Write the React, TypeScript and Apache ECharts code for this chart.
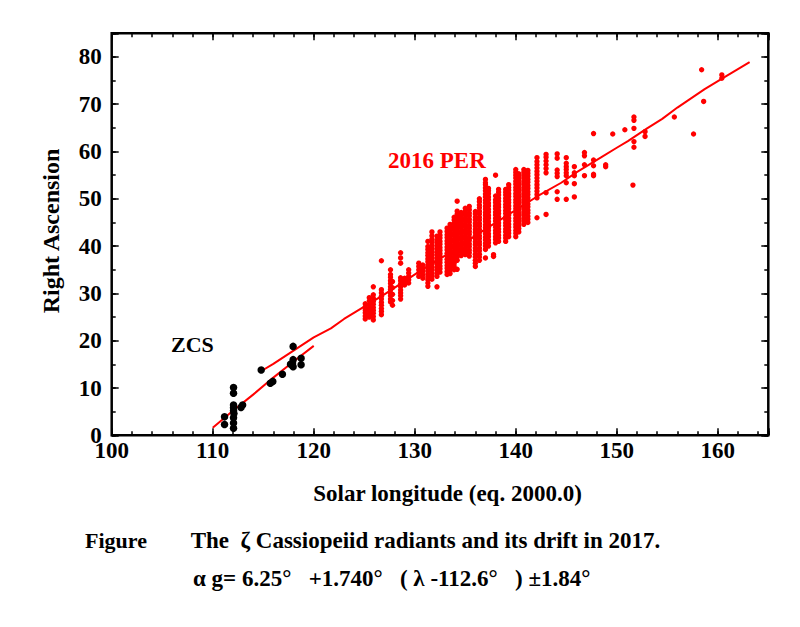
import React, { useEffect, useRef } from "react";
import * as echarts from "echarts";

// ---- axis ranges ----
const xMin = 100;
const xMax = 165;
const yMin = 0;
const yMax = 85;

// ---- 2016 PER radiants: solar longitude of each stripe and its RA values ----
const perLambda = [
  125.1, 125.5, 125.9, 126.7, 127.6, 127.8, 128.6, 129.0, 129.4, 130.4, 130.8,
  131.3, 131.7, 132.2, 132.5, 133.2, 133.5, 133.9, 134.2, 134.6, 135.0, 135.4,
  136.0, 136.4, 137.0, 137.3, 137.8, 138.0, 138.3, 139.0, 139.3, 140.0, 140.3,
  140.8, 141.2, 142.1, 143.0, 144.1, 145.0, 145.8, 146.8, 147.7, 148.9, 149.6,
  150.8, 151.6, 151.7, 152.8, 155.7, 157.6, 158.4, 158.6, 160.4,
];
const perRA = [
  [24.6, 25.2, 25.9, 26.5, 27.1, 27.8],
  [25.0, 25.6, 26.3, 26.9, 27.6, 28.4, 29.1],
  [24.4, 25.1, 25.8, 26.4, 27.0, 27.7, 28.3, 29.0, 29.7, 31.4],
  [25.5, 26.2, 26.8, 27.5, 28.1, 28.8, 29.4, 30.1, 30.8, 36.9],
  [28.2, 28.8, 29.5, 30.1, 30.8, 31.4, 32.1, 32.7, 33.4, 34.0, 35.0],
  [27.5, 28.5, 29.8, 31.2, 32.5],
  [28.8, 29.5, 30.1, 30.7, 31.4, 32.0, 32.7, 33.3, 36.4, 37.5, 38.6],
  [31.8, 32.5, 33.2],
  [32.2, 32.9, 33.6, 34.3, 35.0],
  [33.6, 34.3, 35.0, 35.7, 36.4],
  [33.2, 33.9, 34.6, 35.3, 36.0],
  [31.5, 32.2, 32.9, 33.5, 34.1, 34.8, 35.4, 36.0, 36.7, 37.3, 38.0, 38.6, 39.3, 39.9, 41.0],
  [33.0, 33.7, 34.3, 35.0, 35.6, 36.3, 36.9, 37.6, 38.2, 38.9, 39.5, 40.2, 40.9, 41.5, 42.2, 43.0],
  [31.4, 33.6, 34.2, 34.9, 35.5, 36.2, 36.8, 37.4, 38.1, 38.7, 39.4, 40.0, 40.7, 41.3, 42.1],
  [34.5, 35.2, 35.8, 36.5, 37.1, 37.8, 38.4, 39.1, 39.7, 40.4, 41.0, 41.7, 42.3, 43.0],
  [34.0, 34.6, 35.3, 35.9, 36.6, 37.2, 37.9, 38.5, 39.2, 39.8, 40.5, 41.1, 41.8, 42.4, 43.1, 43.8],
  [34.2, 34.9, 35.6, 36.2, 36.9, 37.5, 38.2, 38.8, 39.5, 40.1, 40.8, 41.4, 42.1, 42.7, 43.4, 44.1, 44.6],
  [35.0, 35.7, 36.3, 37.0, 37.6, 38.3, 38.9, 39.6, 40.2, 40.9, 41.5, 42.2, 42.8, 43.5, 44.1, 44.8, 45.5, 46.1],
  [35.1, 37.0, 37.7, 38.3, 39.0, 39.6, 40.3, 40.9, 41.6, 42.2, 42.9, 43.5, 44.2, 44.8, 45.5, 46.1, 46.8, 47.4, 49.5],
  [38.0, 38.7, 39.3, 40.0, 40.6, 41.3, 41.9, 42.6, 43.2, 43.9, 44.5, 45.2, 45.8, 46.5, 47.1],
  [38.2, 38.9, 39.5, 40.2, 40.8, 41.5, 42.1, 42.8, 43.4, 44.1, 44.7, 45.4, 46.0, 46.7, 47.3, 48.0],
  [37.9, 38.6, 39.2, 39.9, 40.5, 41.2, 41.8, 42.5, 43.1, 43.8, 44.4, 45.1, 45.7, 46.4, 47.0, 47.7, 48.4],
  [35.7, 36.4, 37.0, 37.7, 38.3, 39.0, 39.6, 40.3, 40.9, 41.6, 42.2, 42.9, 43.5, 44.2, 44.8, 45.5, 46.1, 46.8, 47.3],
  [37.0, 37.7, 38.3, 39.0, 39.6, 40.3, 40.9, 41.6, 42.2, 42.9, 43.5, 44.2, 44.8, 45.5, 46.1, 46.8, 47.4, 48.1, 48.7, 49.4, 50.0],
  [37.5, 39.3, 40.0, 40.6, 41.3, 41.9, 42.6, 43.2, 43.9, 44.5, 45.2, 45.8, 46.5, 47.1, 47.8, 48.4, 49.1, 49.7, 50.4, 51.0, 51.7, 52.3, 53.0, 53.4, 54.1],
  [40.0, 40.7, 41.3, 42.0, 42.6, 43.3, 43.9, 44.6, 45.2, 45.9, 46.5, 47.2, 47.8, 48.5, 49.1, 49.8, 50.4, 51.1, 51.7, 52.2],
  [37.8, 38.2],
  [40.7, 41.4, 42.0, 42.7, 43.3, 44.0, 44.6, 45.3, 45.9, 46.6, 47.2, 47.9, 48.5, 49.2, 49.8, 50.6, 55.0],
  [41.0, 41.7, 42.3, 43.0, 43.6, 44.3, 44.9, 45.6, 46.2, 46.9, 47.5, 48.2, 48.8, 49.5, 50.1, 50.8, 51.4, 52.0],
  [41.0, 41.7, 42.3, 43.0, 43.6, 44.3, 44.9, 45.6, 46.2, 46.9, 47.5, 48.2, 48.8, 49.5, 50.1, 50.8, 51.4, 52.0],
  [42.0, 42.7, 43.3, 44.0, 44.6, 45.3, 45.9, 46.6, 47.2, 47.9, 48.5, 49.2, 49.8, 50.5, 51.1, 51.8, 52.4, 53.0],
  [42.0, 42.7, 43.3, 44.0, 44.6, 45.3, 45.9, 46.6, 47.2, 47.9, 48.5, 49.2, 49.8, 50.5, 51.1, 51.8, 52.4, 53.1, 53.7, 54.4, 55.0, 55.6, 56.2],
  [43.0, 43.7, 44.3, 45.0, 45.6, 46.3, 46.9, 47.6, 48.2, 48.9, 49.5, 50.2, 50.8, 51.5, 52.1, 52.8, 53.4, 54.1, 54.7, 55.3],
  [44.6, 45.3, 45.9, 46.6, 47.2, 47.9, 48.5, 49.2, 49.8, 50.5, 51.1, 51.8, 52.4, 53.1, 53.7, 54.4, 55.0, 55.6, 56.2],
  [45.0, 45.7, 46.3, 47.0, 47.6, 48.3, 48.9, 49.6, 50.2, 50.9, 51.5, 52.2, 52.8, 53.5, 54.1, 54.8, 55.4, 56.0],
  [46.0, 50.2, 50.9, 51.6, 52.3, 53.0, 53.7, 54.4, 55.1, 55.8, 56.5, 57.2, 57.9, 58.7],
  [46.7, 51.3, 55.5, 56.4, 57.2, 58.0, 58.8, 59.4],
  [49.9, 51.5, 54.7, 55.4, 56.1, 58.6, 59.5],
  [49.9, 53.4, 54.9, 55.5, 56.2, 56.8, 57.5, 58.7],
  [50.4, 53.2, 54.9, 55.5, 56.8],
  [54.9, 57.2, 59.1, 59.8],
  [54.9, 55.2, 57.0, 58.2, 63.8],
  [56.8, 57.2],
  [63.7],
  [64.6],
  [52.9],
  [60.9, 62.1, 64.9, 66.6, 67.3],
  [63.2, 64.2],
  [67.3],
  [63.7],
  [77.3],
  [70.6],
  [75.5, 76.2],
];

// ---- ZCS radiants ----
const zcsLambda = [
  111.17, 111.17, 112.06, 112.06, 112.06, 112.06, 112.06, 112.1, 112.06, 112.06,
  112.06, 112.96, 112.8, 114.8, 115.7, 115.95, 116.9, 117.96, 117.96, 117.9,
  117.96, 118.75, 118.75, 117.7,
];
const zcsRA = [
  3.9, 2.3, 10.1, 8.9, 6.4, 5.8, 5.2, 4.6, 3.7, 2.6,
  1.5, 6.4, 5.9, 13.8, 11.0, 11.4, 12.9, 18.8, 16.0, 15.3,
  14.5, 16.3, 14.9, 15.0,
];

// ---- drift lines ----
const perFitLambda = [
  114.9, 116, 118, 120, 121.7, 123, 125, 127, 129, 131, 133, 135, 137, 139,
  141, 142.2, 144.5, 146, 148.4, 150, 151.1, 153, 154.5, 156, 158.7, 160.5, 163.15,
];
const perFitRA = [
  13.7, 15.1, 17.9, 20.7, 22.6, 24.6, 27.2, 29.8, 32.6, 35.4, 38.0, 40.8, 43.6, 46.3,
  49.0, 50.6, 53.4, 55.6, 58.7, 60.8, 62.2, 64.9, 66.9, 69.3, 73.2, 75.5, 78.9,
];
const zcsFitLambda = [110, 112, 114, 116, 118, 120];
const zcsFitRA = [1.6, 5.2, 8.6, 12.2, 15.6, 18.9];

const SERIF = '"Liberation Serif", "Times New Roman", serif';

export default function App() {
  const ref = useRef<HTMLDivElement>(null);

  useEffect(() => {
    if (!ref.current) return;
    const chart = echarts.init(ref.current, undefined, { renderer: "svg" });

    const perData: number[][] = [];
    perLambda.forEach((l, i) => perRA[i].forEach((v) => perData.push([l, v])));
    const zcsData = zcsLambda.map((l, i) => [l, zcsRA[i]]);
    const perFit = perFitLambda.map((l, i) => [l, perFitRA[i]]);
    const zcsFit = zcsFitLambda.map((l, i) => [l, zcsFitRA[i]]);

    const tickStyle = { color: "#000", width: 1.5 };
    const labelStyle = {
      color: "#000",
      fontFamily: SERIF,
      fontWeight: "bold" as const,
      fontSize: 23,
      lineHeight: 15,
    };

    const mkX = (pos: string, interval: number, len: number, labels: boolean) => ({
      type: "value",
      position: pos,
      min: xMin,
      max: xMax,
      interval,
      axisLine: { show: false, onZero: false },
      axisTick: { show: true, inside: true, length: len, lineStyle: tickStyle },
      axisLabel: labels
        ? { ...labelStyle, margin: 8, formatter: (v: number) => (v % 10 === 0 ? String(v) : "") }
        : { show: false },
      splitLine: { show: false },
    });
    const mkY = (pos: string, interval: number, len: number, labels: boolean) => ({
      type: "value",
      position: pos,
      min: yMin,
      max: yMax,
      interval,
      axisLine: { show: false, onZero: false },
      axisTick: { show: true, inside: true, length: len, lineStyle: tickStyle },
      axisLabel: labels
        ? { ...labelStyle, margin: 10, formatter: (v: number) => (v % 10 === 0 ? String(v) : "") }
        : { show: false },
      splitLine: { show: false },
    });

    const txt = (
      text: string,
      x: number,
      y: number,
      size: number,
      align: string,
      fill = "#000",
      rotation = 0
    ) => ({
      type: "text",
      x,
      y,
      rotation,
      style: {
        text,
        font: `bold ${size}px ${SERIF}`,
        fill,
        textAlign: align,
        textVerticalAlign: "middle",
        align,
        verticalAlign: "middle",
      },
    });

    chart.setOption({
      animation: false,
      backgroundColor: "#fff",
      grid: {
        left: 111.7,
        right: 31.7,
        top: 33.3,
        bottom: 191.7,
        show: true,
        borderColor: "#000",
        borderWidth: 2.5,
        backgroundColor: "transparent",
        containLabel: false,
      },
      xAxis: [
        mkX("bottom", 10, 7, true),
        mkX("bottom", 2, 4, false),
        mkX("top", 10, 7, false),
        mkX("top", 2, 4, false),
      ],
      yAxis: [
        mkY("left", 10, 7, true),
        mkY("left", 5, 4, false),
        mkY("right", 10, 7, false),
        mkY("right", 5, 4, false),
      ],
      series: [
        {
          type: "scatter",
          data: perData,
          symbol: "circle",
          symbolSize: 5.4,
          itemStyle: { color: "#ff0000", opacity: 1 },
          silent: true,
        },
        {
          type: "line",
          data: perFit,
          showSymbol: false,
          symbol: "none",
          lineStyle: { color: "#ff0000", width: 2 },
          silent: true,
        },
        {
          type: "line",
          data: zcsFit,
          showSymbol: false,
          symbol: "none",
          lineStyle: { color: "#ff0000", width: 2 },
          silent: true,
        },
        {
          type: "scatter",
          data: zcsData,
          symbol: "circle",
          symbolSize: 7.5,
          itemStyle: { color: "#000", opacity: 1 },
          silent: true,
          z: 5,
        },
      ],
      graphic: [
        txt("Right Ascension", 51, 231, 24, "center", "#000", Math.PI / 2),
        txt("Solar longitude (eq. 2000.0)", 447.5, 493, 23, "center"),
        txt("2016 PER", 388, 160, 23, "left", "#ff0000"),
        txt("ZCS", 171, 344, 22, "left"),
        txt("Figure", 85, 540, 22, "left"),
        txt("The  ζ Cassiopeiid radiants and its drift in 2017.", 190.7, 540, 23, "left"),
        txt("α g= 6.25°   +1.740°   ( λ -112.6°   ) ±1.84°", 193, 578, 23, "left"),
      ],
    });

    return () => chart.dispose();
  }, []);

  return (
    <div
      ref={ref}
      style={{ position: "fixed", left: 0, top: 0, width: 800, height: 627, background: "#fff" }}
    />
  );
}
